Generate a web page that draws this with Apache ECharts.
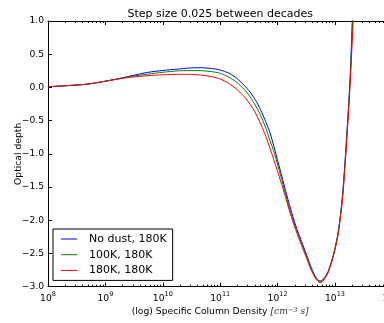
<!DOCTYPE html>
<html><head><meta charset="utf-8">
<script src="https://cdn.jsdelivr.net/npm/echarts@6/dist/echarts.min.js"></script>
<style>html,body{margin:0;padding:0;background:#fff}#c{width:384px;height:323px}</style>
</head><body><div id="c"></div>
<script>
// ---- data (x given as log10 of specific column density) ----
const seriesNames = ['No dust, 180K', '100K, 180K', '180K, 180K'];
const seriesColors = ['#0000ff', '#008000', '#ff0000'];

const noDustExp = [8.00, 8.35, 8.70, 9.16, 9.45, 9.74, 10.00, 10.27, 10.45, 10.65, 10.85, 11.00, 11.15, 11.29, 11.42, 11.52, 11.62, 11.70, 11.80, 11.88, 11.976, 12.068, 12.16, 12.25, 12.34, 12.44, 12.53, 12.60, 12.66, 12.70, 12.739, 12.78, 12.83, 12.88, 12.94, 13.00, 13.05, 13.09, 13.125, 13.165, 13.20, 13.24, 13.27, 13.301, 13.335];
const noDustVal = [0.010, 0.028, 0.051, 0.120, 0.175, 0.227, 0.255, 0.277, 0.292, 0.297, 0.285, 0.262, 0.215, 0.137, 0.030, -0.070, -0.200, -0.330, -0.530, -0.717, -1.018, -1.319, -1.62, -1.90, -2.14, -2.37, -2.58, -2.74, -2.85, -2.895, -2.916, -2.90, -2.85, -2.77, -2.62, -2.42, -2.21, -1.96, -1.68, -1.24, -0.78, -0.22, 0.27, 1.00, 1.70];

const dust100Exp = [8.00, 8.35, 8.70, 9.16, 9.45, 9.74, 10.00, 10.27, 10.45, 10.65, 10.85, 11.00, 11.15, 11.29, 11.42, 11.52, 11.62, 11.71, 11.78, 11.84, 11.955, 12.05, 12.14, 12.23, 12.32, 12.43, 12.52, 12.59, 12.655, 12.70, 12.739, 12.78, 12.83, 12.88, 12.94, 13.00, 13.05, 13.09, 13.127, 13.167, 13.204, 13.243, 13.273, 13.307, 13.34];
const dust100Val = [0.010, 0.028, 0.051, 0.118, 0.165, 0.200, 0.228, 0.250, 0.253, 0.252, 0.238, 0.212, 0.155, 0.075, -0.030, -0.140, -0.280, -0.430, -0.580, -0.730, -1.02, -1.32, -1.61, -1.89, -2.13, -2.37, -2.58, -2.74, -2.855, -2.90, -2.921, -2.905, -2.855, -2.775, -2.625, -2.425, -2.215, -1.965, -1.68, -1.24, -0.77, -0.21, 0.28, 1.00, 1.70];

const dust180Exp = [8.00, 8.35, 8.70, 9.16, 9.45, 9.74, 10.00, 10.27, 10.45, 10.65, 10.85, 11.00, 11.15, 11.29, 11.44, 11.60, 11.77, 11.90, 12.02, 12.12, 12.20, 12.29, 12.40, 12.50, 12.58, 12.65, 12.70, 12.739, 12.78, 12.83, 12.88, 12.94, 13.00, 13.05, 13.09, 13.13, 13.17, 13.21, 13.25, 13.28, 13.317, 13.35];
const dust180Val = [0.010, 0.028, 0.051, 0.118, 0.155, 0.176, 0.190, 0.197, 0.196, 0.187, 0.163, 0.127, 0.060, -0.030, -0.160, -0.360, -0.680, -1.000, -1.320, -1.600, -1.840, -2.080, -2.340, -2.560, -2.740, -2.860, -2.920, -2.938, -2.925, -2.870, -2.790, -2.640, -2.440, -2.240, -1.990, -1.700, -1.250, -0.730, -0.170, 0.330, 1.000, 1.700];

const xDecadeExps = [8, 9, 10, 11, 12, 13, 14];
const yTickValues = [-3.0, -2.5, -2.0, -1.5, -1.0, -0.5, 0.0, 0.5, 1.0];

const titleText = 'Step size 0.025 between decades';
const yName = 'Optical depth';

// ---- build ----
const xs = [noDustExp, dust100Exp, dust180Exp];
const ys = [noDustVal, dust100Val, dust180Val];
const minorTicks = [];
for (let d = 8; d < 14; d++) for (let k = 2; k <= 9; k++) minorTicks.push(d + Math.log10(k));

const FONT = 'DejaVu Sans';
const xMin = xDecadeExps[0], xMax = xDecadeExps[xDecadeExps.length - 1];
const yMin = yTickValues[0], yMax = yTickValues[yTickValues.length - 1];

function majorX(pos, extra) {
  return Object.assign({
    type: 'value', position: pos, min: xMin, max: xMax, interval: 1,
    axisLine: { show: true, onZero: false, lineStyle: { color: '#000', width: 1 } },
    axisTick: { show: true, inside: true, length: 4, lineStyle: { color: '#000', width: 1 } },
    splitLine: { show: false },
    axisLabel: { show: false }
  }, extra);
}
function minorX(pos) {
  return {
    type: 'value', position: pos, min: xMin, max: xMax,
    axisLine: { show: false, onZero: false },
    axisTick: { show: true, inside: true, length: 2, customValues: minorTicks, lineStyle: { color: '#000', width: 1 } },
    splitLine: { show: false },
    axisLabel: { show: false }
  };
}

const chart = echarts.init(document.getElementById('c'), null, { renderer: 'canvas' });
chart.setOption({
  animation: false,
  textStyle: { fontFamily: FONT },
  grid: { left: 48, top: 21, width: 344.4, height: 265.7, containLabel: false, outerBoundsMode: 'none' },
  legend: {
    orient: 'vertical', left: 53, top: 229,
    backgroundColor: '#fff', borderColor: '#000', borderWidth: 1, borderRadius: 0,
    padding: [4.5, 6, 4.5, 8], itemWidth: 16, itemHeight: 2, itemGap: 4.7,
    data: seriesNames.map((n, i) => ({
      name: n, icon: 'path://M0,0L16,0L16,1L0,1Z',
      itemStyle: { color: seriesColors[i], borderWidth: 0, opacity: 1 }
    })),
    textStyle: { fontFamily: FONT, fontSize: 11, color: '#000', padding: [0, 0, 0, 7] }
  },
  xAxis: [
    majorX('bottom', {
      axisLabel: {
        show: true, margin: 4, color: '#000',
        formatter: v => '{b|10}{s|' + v + '}',
        rich: {
          b: { fontFamily: FONT, fontSize: 9.2, color: '#000', lineHeight: 12, verticalAlign: 'bottom' },
          s: { fontFamily: FONT, fontSize: 6.5, color: '#000', lineHeight: 8, verticalAlign: 'top' }
        }
      },
      name: '(log) Specific Column Density {m|[cm}{ms|−3}{m| s]}',
      nameLocation: 'middle', nameGap: 20, nameMoveOverlap: false,
      nameTextStyle: {
        fontFamily: FONT, fontSize: 9.2, color: '#000',
        rich: {
          m: { fontFamily: 'DejaVu Serif', fontStyle: 'italic', fontSize: 9.2, color: '#333' },
          ms: { fontFamily: 'DejaVu Serif', fontStyle: 'italic', fontSize: 6.5, color: '#333', verticalAlign: 'top' }
        }
      }
    }),
    minorX('bottom'),
    majorX('top', {
      name: titleText, nameLocation: 'middle', nameGap: 1, nameMoveOverlap: false,
      nameTextStyle: { fontFamily: FONT, fontSize: 11, color: '#000' }
    }),
    minorX('top')
  ],
  yAxis: [
    {
      type: 'value', position: 'left', min: yMin, max: yMax, interval: 0.5,
      axisLine: { show: true, onZero: false, lineStyle: { color: '#000', width: 1 } },
      axisTick: { show: true, inside: true, length: 4, lineStyle: { color: '#000' } },
      splitLine: { show: false },
      axisLabel: { show: true, margin: 4, color: '#000', fontFamily: FONT, fontSize: 9.2,
        formatter: v => v.toFixed(1).replace('-', '\u2212') },
      name: yName, nameLocation: 'middle', nameGap: 25, nameMoveOverlap: false,
      nameTextStyle: { fontFamily: FONT, fontSize: 9.2, color: '#000' }
    },
    {
      type: 'value', position: 'right', min: yMin, max: yMax, interval: 0.5,
      axisLine: { show: true, onZero: false, lineStyle: { color: '#000', width: 1 } },
      axisTick: { show: true, inside: true, length: 4, lineStyle: { color: '#000' } },
      splitLine: { show: false },
      axisLabel: { show: false }
    }
  ],
  series: seriesNames.map((name, i) => ({
    name, type: 'line', xAxisIndex: 0, yAxisIndex: 0,
    data: xs[i].map((x, j) => [x, ys[i][j]]),
    symbol: 'none', showSymbol: false, smooth: 0.25, clip: true,
    color: seriesColors[i],
    lineStyle: { color: seriesColors[i], width: 1 },
    itemStyle: { color: seriesColors[i] },
    z: 2 + i
  }))
});
</script></body></html>
